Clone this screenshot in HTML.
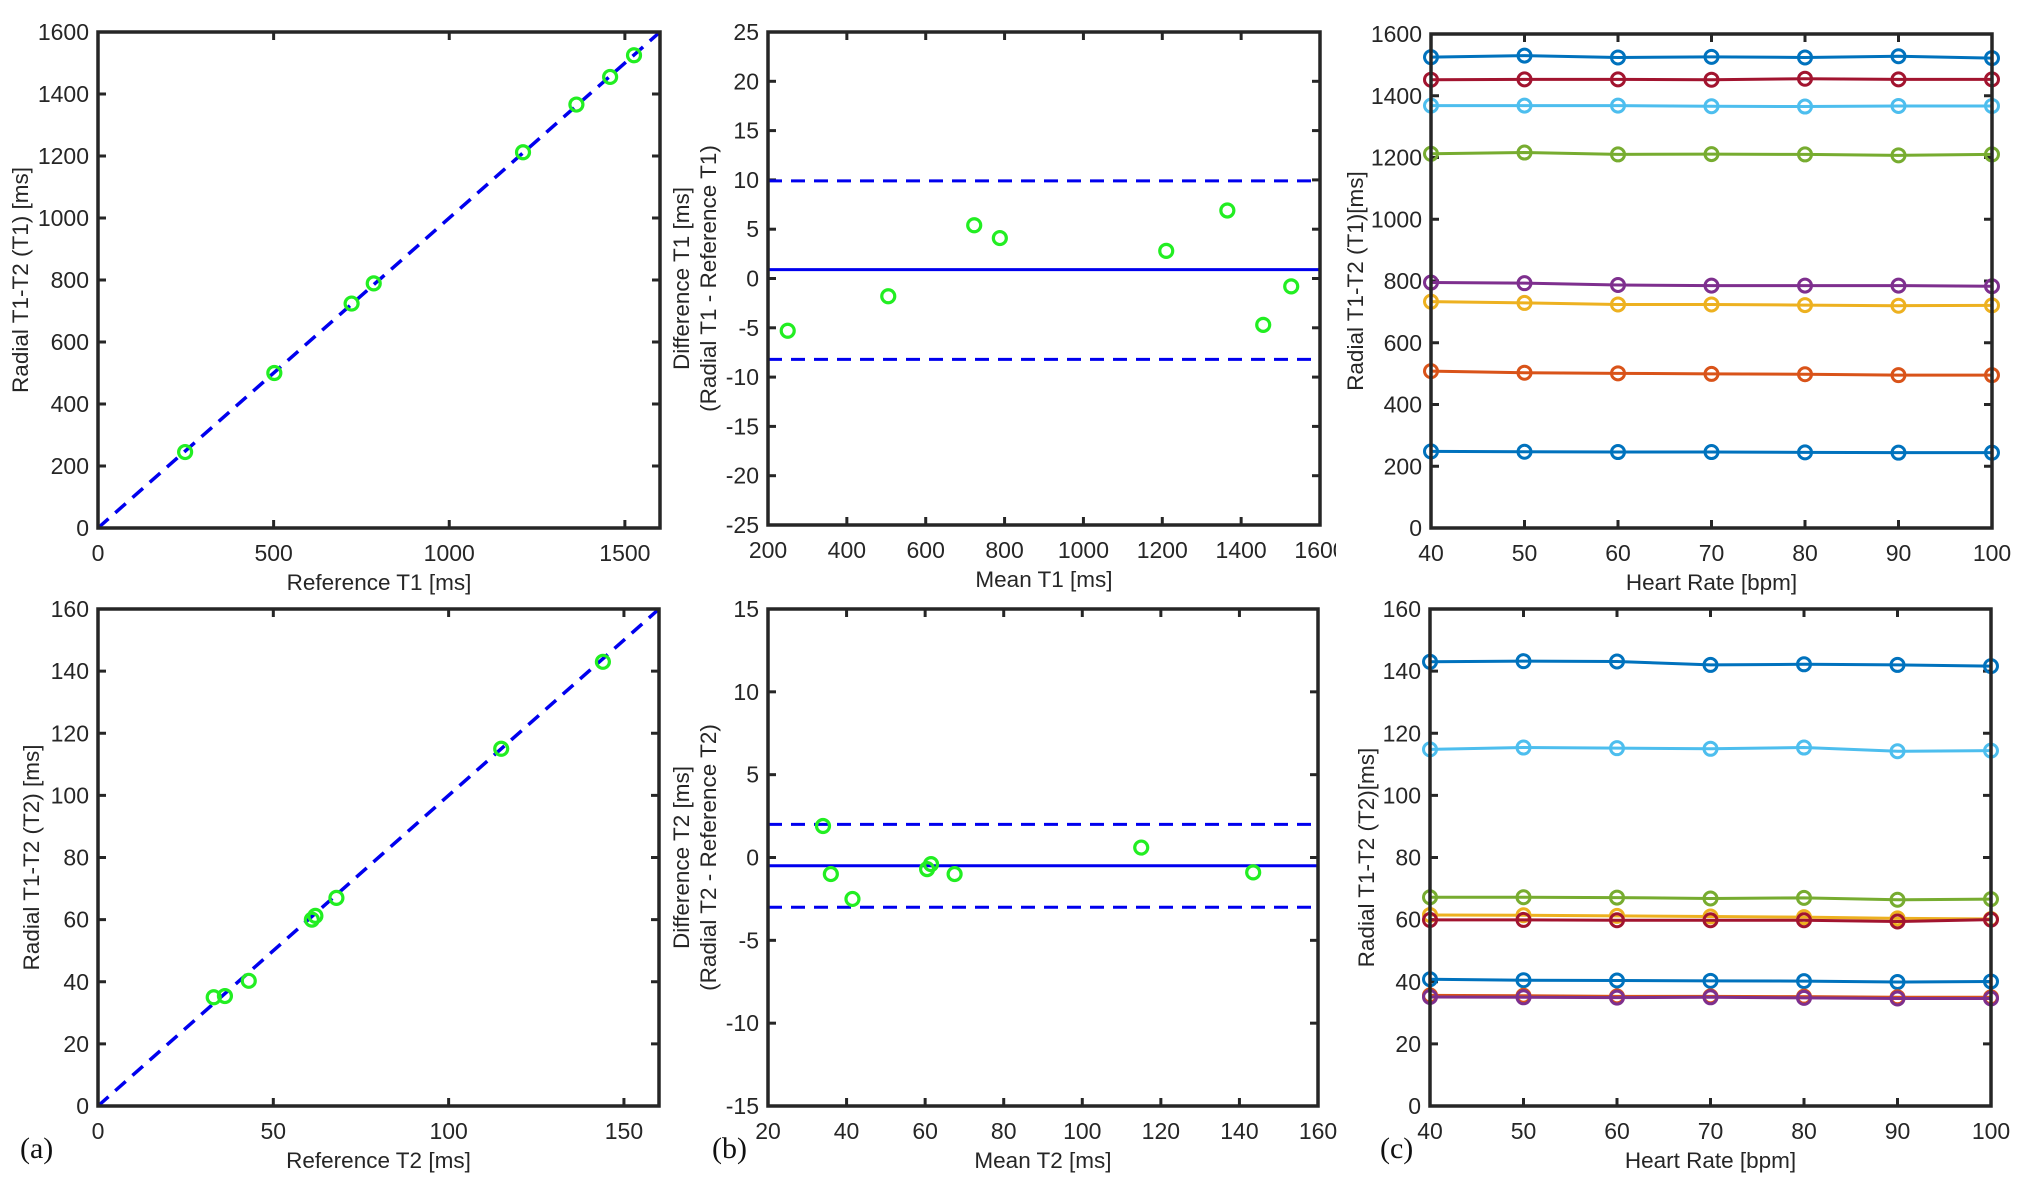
<!DOCTYPE html>
<html><head><meta charset="utf-8"><style>
html,body{margin:0;padding:0;background:#fff}
svg{display:block;font-family:"Liberation Sans",Arial,sans-serif}
</style></head><body>
<svg id="fig" width="2026" height="1189" viewBox="0 0 2026 1189" xmlns="http://www.w3.org/2000/svg">
<defs><clipPath id="clipTop"><rect x="0" y="0" width="1336" height="1189"/></clipPath></defs>
<rect width="2026" height="1189" fill="#fff"/>
</svg>
<script>
// ---- data ----
const refT1 = [248, 502, 722, 785, 1210, 1362, 1458, 1526];
const radT1 = [245, 500, 724, 789, 1212, 1366, 1455, 1525];
const baMeanT1 = [250, 505, 723, 788, 1210, 1365, 1456, 1527];
const baDiffT1 = [-5.3, -1.8, 5.4, 4.1, 2.8, 6.9, -4.7, -0.8];
const baLinesT1 = [0.9, 9.9, -8.2];
const refT2 = [33, 36.2, 43, 61, 62, 68, 115, 144];
const radT2 = [35, 35.4, 40.3, 60, 61.2, 67, 115, 143];
const baMeanT2 = [34, 36, 41.5, 60.5, 61.5, 67.5, 115, 143.5];
const baDiffT2 = [1.9, -1.0, -2.5, -0.7, -0.4, -1.0, 0.6, -0.9];
const baLinesT2 = [-0.5, 2.0, -3.0];
const heartRates = [40, 50, 60, 70, 80, 90, 100];
const hrT1_1 = [1525, 1530, 1524, 1526, 1524, 1528, 1522];
const hrT1_2 = [1452, 1453, 1453, 1452, 1455, 1453, 1453];
const hrT1_3 = [1368, 1368, 1368, 1366, 1365, 1367, 1367];
const hrT1_4 = [1212, 1216, 1210, 1211, 1210, 1207, 1210];
const hrT1_5 = [795, 793, 787, 785, 785, 785, 783];
const hrT1_6 = [733, 729, 724, 724, 722, 720, 721];
const hrT1_7 = [508, 503, 501, 499, 498, 495, 495];
const hrT1_8 = [248, 247, 246, 246, 245, 244, 244];
const hrT2_1 = [143, 143.2, 143.1, 142, 142.2, 142, 141.6];
const hrT2_2 = [114.8, 115.4, 115.2, 115, 115.4, 114.2, 114.4];
const hrT2_3 = [67.2, 67.2, 67.1, 66.8, 67, 66.4, 66.6];
const hrT2_4 = [61.5, 61.4, 61.2, 61, 60.8, 60.4, 60.2];
const hrT2_5 = [59.9, 59.9, 59.8, 59.8, 59.8, 59.4, 60];
const hrT2_6 = [40.8, 40.5, 40.4, 40.3, 40.2, 39.9, 40.1];
const hrT2_7 = [35.6, 35.5, 35.3, 35.3, 35.2, 35.0, 35.0];
const hrT2_8 = [35.1, 35.0, 34.9, 35.0, 34.8, 34.6, 34.6];
const ticksT1 = [0, 500, 1000, 1500];
const ticksT1y = [0, 200, 400, 600, 800, 1000, 1200, 1400, 1600];
const ticksBA1x = [200, 400, 600, 800, 1000, 1200, 1400, 1600];
const ticksBA1y = [-25, -20, -15, -10, -5, 0, 5, 10, 15, 20, 25];
const ticksT2 = [0, 50, 100, 150];
const ticksT2y = [0, 20, 40, 60, 80, 100, 120, 140, 160];
const ticksBA2x = [20, 40, 60, 80, 100, 120, 140, 160];
const ticksBA2y = [-15, -10, -5, 0, 5, 10, 15];

const NS = "http://www.w3.org/2000/svg";
const svg = document.getElementById('fig');
function mk(tag, attrs, parent) {
  const e = document.createElementNS(NS, tag);
  for (const k in attrs) e.setAttribute(k, attrs[k]);
  (parent || svg).appendChild(e);
  return e;
}
function txt(s, attrs, parent) { const e = mk('text', attrs, parent); e.textContent = s; return e; }

function axes(name, box, xd, yd, xt, yt, xlab, ylabs, ylabX, clip) {
  const g = mk('g', clip ? {'clip-path': 'url(#clipTop)'} : {});
  
  
  const sx = v => box.l + (v - xd[0]) / (xd[1] - xd[0]) * (box.r - box.l);
  const sy = v => box.b - (v - yd[0]) / (yd[1] - yd[0]) * (box.b - box.t);
  xt.forEach(v => {
    const x = sx(v);
    mk('line', {x1: x, x2: x, y1: box.b, y2: box.b - 8, stroke: '#262626', 'stroke-width': 3}, g);
    mk('line', {x1: x, x2: x, y1: box.t, y2: box.t + 8, stroke: '#262626', 'stroke-width': 3}, g);
    const t = txt(String(v), {x: x, y: box.b + 33, 'font-size': 23, 'text-anchor': 'middle', fill: '#262626'}, g);
    
    
  });
  yt.forEach(v => {
    const y = sy(v);
    mk('line', {x1: box.l, x2: box.l + 8, y1: y, y2: y, stroke: '#262626', 'stroke-width': 3}, g);
    mk('line', {x1: box.r, x2: box.r - 8, y1: y, y2: y, stroke: '#262626', 'stroke-width': 3}, g);
    const t = txt(String(v), {x: box.l - 9, y: y + 8, 'font-size': 23, 'text-anchor': 'end', fill: '#262626'}, g);
    
    
  });
  const xl = txt(xlab, {x: (box.l + box.r) / 2, y: box.b + 62, 'font-size': 22.5, 'text-anchor': 'middle', fill: '#262626'}, g);
  
  
  ylabs.forEach((s, i) => {
    const cx = ylabX[i], cy = (box.t + box.b) / 2;
    const yl = txt(s, {x: cx, y: cy, 'font-size': 22.5, 'text-anchor': 'middle', fill: '#262626', transform: `rotate(-90 ${cx} ${cy})`}, g);
    
    
  });
  return {g, sx, sy, box};
}
function frame(a) {
  const r = mk('rect', {x: a.box.l, y: a.box.t, width: a.box.r - a.box.l, height: a.box.b - a.box.t, fill: 'none', stroke: '#262626', 'stroke-width': 3.5}, a.g);
  
  
}
function circ(a, x, y, color, sw, r) {
  const c = mk('circle', {cx: a.sx(x), cy: a.sy(y), r: r || 6.5, fill: 'none', stroke: color, 'stroke-width': sw}, a.g);
  
  
}
function identity(a, lo, hi) {
  const l = mk('line', {x1: a.sx(lo), y1: a.sy(lo), x2: a.sx(hi), y2: a.sy(hi), stroke: '#0000ee', 'stroke-width': 3.5, 'stroke-dasharray': '14 9'}, a.g);
  
  
}
function hline(a, v, xd, dashed, name) {
  const l = mk('line', {x1: a.sx(xd[0]), x2: a.sx(xd[1]), y1: a.sy(v), y2: a.sy(v), stroke: '#0000ee', 'stroke-width': 3}, a.g);
  if (dashed) l.setAttribute('stroke-dasharray', '14 9');
  
  
}
function series(a, xs, ys, color) {
  const p = mk('polyline', {points: xs.map((x, i) => a.sx(x) + ',' + a.sy(ys[i])).join(' '), fill: 'none', stroke: color, 'stroke-width': 3}, a.g);
  
  
  xs.forEach((x, i) => circ(a, x, ys[i], color, 3, 6.5));
}
const GREEN = '#22ee22';
const row1 = {t: 32, b: 528}, row2 = {t: 609, b: 1106};

// (a) top
let A = axes('t1-agreement-plot', {l: 98, r: 660, t: row1.t, b: row1.b}, [0, 1600], [0, 1600], ticksT1, ticksT1y, 'Reference T1 [ms]', ['Radial T1-T2 (T1) [ms]'], [28]);
identity(A, 0, 1600); refT1.forEach((x, i) => circ(A, x, radT1[i], GREEN, 3.2)); frame(A);
// (b) top
let B = axes('t1-bland-altman-plot', {l: 768, r: 1320, t: row1.t, b: 525}, [200, 1600], [-25, 25], ticksBA1x, ticksBA1y, 'Mean T1 [ms]', ['Difference T1 [ms]', '(Radial T1 - Reference T1)'], [689, 716], true);
hline(B, baLinesT1[0], [200, 1600], false, 'mean-difference-line');
hline(B, baLinesT1[1], [200, 1600], true, 'upper-limit-line');
hline(B, baLinesT1[2], [200, 1600], true, 'lower-limit-line');
baMeanT1.forEach((x, i) => circ(B, x, baDiffT1[i], GREEN, 3.2)); frame(B);
// (c) top
let C = axes('t1-heart-rate-plot', {l: 1431, r: 1992, t: 34, b: 528}, [40, 100], [0, 1600], heartRates, ticksT1y, 'Heart Rate [bpm]', ['Radial T1-T2 (T1)[ms]'], [1363]);
[[hrT1_8,'#0072BD'],[hrT1_7,'#D95319'],[hrT1_6,'#EDB120'],[hrT1_5,'#7E2F8E'],[hrT1_4,'#77AC30'],[hrT1_3,'#4DBEEE'],[hrT1_2,'#A2142F'],[hrT1_1,'#0072BD']].forEach(s => series(C, heartRates, s[0], s[1]));
frame(C);
// (a) bottom
let D = axes('t2-agreement-plot', {l: 98, r: 659, t: row2.t, b: row2.b}, [0, 160], [0, 160], ticksT2, ticksT2y, 'Reference T2 [ms]', ['Radial T1-T2 (T2) [ms]'], [39]);
identity(D, 0, 160); refT2.forEach((x, i) => circ(D, x, radT2[i], GREEN, 3.2)); frame(D);
// (b) bottom
let E = axes('t2-bland-altman-plot', {l: 768, r: 1318, t: row2.t, b: row2.b}, [20, 160], [-15, 15], ticksBA2x, ticksBA2y, 'Mean T2 [ms]', ['Difference T2 [ms]', '(Radial T2 - Reference T2)'], [689, 716]);
hline(E, baLinesT2[0], [20, 160], false, 'mean-difference-line');
hline(E, baLinesT2[1], [20, 160], true, 'upper-limit-line');
hline(E, baLinesT2[2], [20, 160], true, 'lower-limit-line');
baMeanT2.forEach((x, i) => circ(E, x, baDiffT2[i], GREEN, 3.2)); frame(E);
// (c) bottom
let F = axes('t2-heart-rate-plot', {l: 1430, r: 1991, t: row2.t, b: row2.b}, [40, 100], [0, 160], heartRates, ticksT2y, 'Heart Rate [bpm]', ['Radial T1-T2 (T2)[ms]'], [1374]);
[[hrT2_6,'#0072BD'],[hrT2_1,'#0072BD'],[hrT2_2,'#4DBEEE'],[hrT2_3,'#77AC30'],[hrT2_4,'#EDB120'],[hrT2_5,'#A2142F'],[hrT2_7,'#D95319'],[hrT2_8,'#7E2F8E']].forEach(s => series(F, heartRates, s[0], s[1]));
frame(F);

// panel labels
[['(a)', 20], ['(b)', 712], ['(c)', 1380]].forEach(p => {
  const t = txt(p[0], {x: p[1], y: 1158, 'font-size': 30, 'font-family': '"Liberation Serif", serif', fill: '#111'});
  
  
});
</script>
</body></html>
